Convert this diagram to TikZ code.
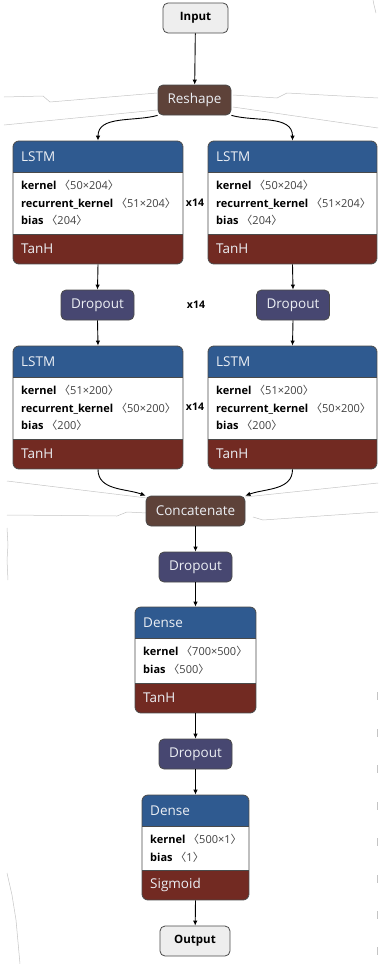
\documentclass[tikz,border=0pt]{standalone}
\usepackage{fontspec}
\setmainfont{Open Sans}
\newfontfamily\cjk{Noto Sans CJK SC}
\usetikzlibrary{arrows.meta,fit}
\definecolor{hdrblue}{HTML}{2F5A90}
\definecolor{actred}{HTML}{722A22}
\definecolor{dropc}{HTML}{474771}
\definecolor{brownc}{HTML}{5E4239}
\definecolor{ioc}{HTML}{EEEEEE}
\definecolor{edgec}{HTML}{4A4A4A}
\definecolor{artc}{HTML}{C4C4C4}
\definecolor{lighttxt}{HTML}{ECEFF4}
\newcommand\dimtxt[1]{{\color{black!75}{\cjk 〈}#1{\cjk 〉}}}
\newcommand\layerblock[9]{%
  \begin{scope}
    \clip[rounded corners=6pt] (#2,#3) rectangle (#4,#5);
    \fill[hdrblue] (#2,#3) rectangle (#4,#6);
    \fill[white] (#2,#6) rectangle (#4,#7);
    \fill[actred] (#2,#7) rectangle (#4,#5);
  \end{scope}
  \draw[edgec, line width=0.6pt] (#2,#6) -- (#4,#6) (#2,#7) -- (#4,#7);
  \node[fit={(#2,#3) (#4,#5)}, inner sep=0pt, draw=edgec, line width=0.8pt, rounded corners=6pt] (#1) {};
  \pgfmathsetmacro\hdy{(#3+#6)/2}%
  \pgfmathsetmacro\fty{(#7+#5)/2}%
  \pgfmathsetmacro\bdy{(#6+#7)/2}%
  \pgfmathsetmacro\tx{#2+8}%
  \node[hdrtxt] (#1-title) at (\tx,\hdy) {#8};
  \node[hdrtxt] (#1-act) at (\tx,\fty) {#9};
  \coordinate (#1-body) at (\tx,\bdy);
}
\tikzset{
  pill/.style={draw=edgec, line width=0.8pt, rounded corners=5pt, minimum height=30pt, inner sep=0pt},
  iobox/.style={pill, fill=ioc, text=black, font=\bfseries\fontsize{11.5}{13}\selectfont},
  dropbox/.style={pill, fill=dropc, text=lighttxt, minimum width=73pt, font=\fontsize{13.5}{16}\selectfont},
  brownbox/.style={pill, fill=brownc, text=lighttxt, font=\fontsize{13.5}{16}\selectfont},
  hdrtxt/.style={anchor=west, inner sep=0pt, text=lighttxt, font=\fontsize{13.5}{15}\selectfont},
  bodytxt/.style={anchor=west, inner sep=0pt, align=left, font=\fontsize{11}{17.7}\selectfont},
  reptxt/.style={inner sep=0pt, font=\bfseries\fontsize{10.5}{12}\selectfont},
  arr/.style={-{Latex[length=5pt,width=4.5pt]}, line width=0.9pt, black},
  artline/.style={draw=artc, line width=0.5pt}
}
\begin{document}
\begin{tikzpicture}[x=1pt, y=-1pt]
\useasboundingbox (0,0) rectangle (378,964);
% faint background traces
\draw[artline] (4,97) -- (43,96) -- (50,102) -- (157,93);
\draw[artline] (4,125) -- (157,110);
\draw[artline] (233,95) -- (277,98) -- (287,93) -- (378,98);
\draw[artline] (233,107) -- (378,128);
\draw[artline] (373,0) .. controls (374,5) .. (376,13);
\draw[artline] (7,481) -- (147,498);
\draw[artline] (7,515) -- (117,516) -- (127,512) -- (147,513);
\draw[artline] (245,497) -- (378,483);
\draw[artline] (253,517) -- (263,520) -- (378,512);
\draw[artline] (7,528) -- (8,545) -- (7,560) -- (8,580);
\draw[artline] (7,873) -- (12,895) -- (16,920) -- (20,964);
\foreach \yy in {692,729,765,802,838,875,911,947}
  \draw[artline] (377,\yy) -- (377,\yy+8);

% nodes
\node[iobox, minimum width=65pt] (input) at (195.5,18) {Input};
\node[brownbox, minimum width=73pt] (reshape) at (194.5,100) {Reshape};

\layerblock{lstmA}{13}{141}{183}{264}{172}{234}{LSTM}{TanH}
\node[bodytxt] (lstmA-txt) at (lstmA-body) {\textbf{kernel} \dimtxt{50×204}\\\textbf{recurrent\_kernel} \dimtxt{51×204}\\\textbf{bias} \dimtxt{204}};
\layerblock{lstmB}{208}{141}{377}{264}{172}{234}{LSTM}{TanH}
\node[bodytxt] (lstmB-txt) at (lstmB-body) {\textbf{kernel} \dimtxt{50×204}\\\textbf{recurrent\_kernel} \dimtxt{51×204}\\\textbf{bias} \dimtxt{204}};
\node[reptxt] (rep1) at (195,203) {x14};

\node[dropbox] (dropA) at (97.5,305) {Dropout};
\node[dropbox] (dropB) at (293,305) {Dropout};
\node[reptxt] (rep2) at (196,305) {x14};

\layerblock{lstmC}{13}{346}{183}{469}{377}{439}{LSTM}{TanH}
\node[bodytxt] (lstmC-txt) at (lstmC-body) {\textbf{kernel} \dimtxt{51×200}\\\textbf{recurrent\_kernel} \dimtxt{50×200}\\\textbf{bias} \dimtxt{200}};
\layerblock{lstmD}{208}{346}{377}{469}{377}{439}{LSTM}{TanH}
\node[bodytxt] (lstmD-txt) at (lstmD-body) {\textbf{kernel} \dimtxt{51×200}\\\textbf{recurrent\_kernel} \dimtxt{50×200}\\\textbf{bias} \dimtxt{200}};
\node[reptxt] (rep3) at (195,407) {x14};

\node[brownbox, minimum width=99pt] (concat) at (195.5,511) {Concatenate};
\node[dropbox] (dropC) at (195.5,567) {Dropout};

\layerblock{denseA}{135}{607}{256}{713}{638}{683}{Dense}{TanH}
\node[bodytxt] (denseA-txt) at (denseA-body) {\textbf{kernel} \dimtxt{700×500}\\\textbf{bias} \dimtxt{500}};

\node[dropbox] (dropD) at (195.5,754) {Dropout};

\layerblock{denseB}{142}{795}{249}{900}{826}{870}{Dense}{Sigmoid}
\node[bodytxt] (denseB-txt) at (denseB-body) {\textbf{kernel} \dimtxt{500×1}\\\textbf{bias} \dimtxt{1}};

\node[iobox, minimum width=70pt] (output) at (195,941) {Output};

% connectors
\draw[arr] (input) -- (reshape);
\draw[arr] (reshape.south west) to[out=195, in=90] (lstmA.north);
\draw[arr] (reshape.south east) to[out=-15, in=90] (lstmB.north);
\draw[arr] (lstmA.south) -- (dropA.north);
\draw[arr] (lstmB.south) -- (dropB.north);
\draw[arr] (dropA.south) -- (lstmC.north);
\draw[arr] (dropB.south) -- (lstmD.north);
\draw[arr] (lstmC.south) to[out=-90, in=160] (concat.north west);
\draw[arr] (lstmD.south) to[out=-90, in=20] (concat.north east);
\draw[arr] (concat) -- (dropC);
\draw[arr] (dropC) -- (denseA.north);
\draw[arr] (denseA.south) -- (dropD);
\draw[arr] (dropD) -- (denseB.north);
\draw[arr] (denseB.south) -- (output);
\end{tikzpicture}
\end{document}
